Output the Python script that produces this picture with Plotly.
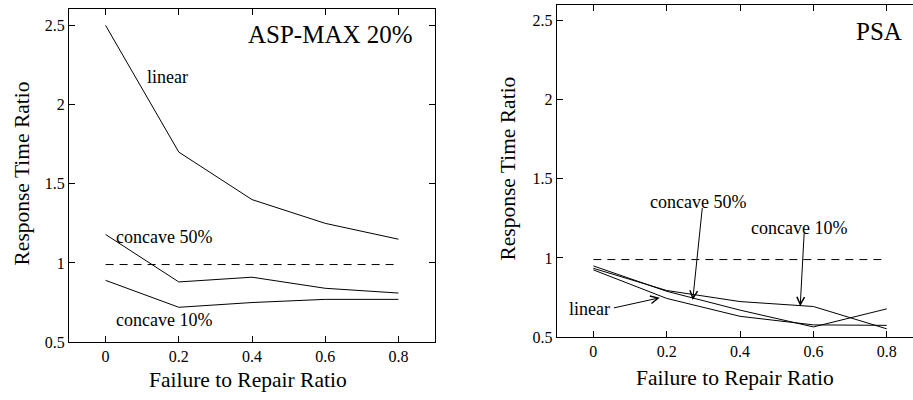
import plotly.graph_objects as go

# Failure-to-repair ratios on the x axis
ratios = [0, 0.2, 0.4, 0.6, 0.8]
tick_y = [0.5, 1, 1.5, 2, 2.5]
tick_y_text = ["0.5", "1", "1.5", "2", "2.5"]
tick_x_text = ["0", "0.2", "0.4", "0.6", "0.8"]

# ASP-MAX 20% response-time ratios
asp_linear = [2.50, 1.70, 1.40, 1.25, 1.15]
asp_concave50 = [1.18, 0.88, 0.91, 0.84, 0.81]
asp_concave10 = [0.89, 0.72, 0.75, 0.77, 0.77]

# PSA response-time ratios
psa_linear = [0.925, 0.745, 0.632, 0.578, 0.575]
psa_concave50 = [0.95, 0.79, 0.671, 0.565, 0.679]
psa_concave10 = [0.935, 0.795, 0.725, 0.694, 0.553]

# Reference level drawn dashed across the x range
baseline_x = [0, 0.8]
baseline_y = [0.99, 0.99]

FONT = "Liberation Serif, Times New Roman, Times, serif"
W, H = 913, 400

fig = go.Figure()

line_style = dict(color="black", width=1)
for ys in (asp_linear, asp_concave50, asp_concave10):
    fig.add_trace(go.Scatter(x=ratios, y=ys, mode="lines", line=line_style,
                             xaxis="x", yaxis="y", showlegend=False))
fig.add_trace(go.Scatter(x=baseline_x, y=baseline_y, mode="lines",
                         line=dict(color="black", width=1, dash="8px,6px"),
                         xaxis="x", yaxis="y", showlegend=False))

for ys in (psa_linear, psa_concave50, psa_concave10):
    fig.add_trace(go.Scatter(x=ratios, y=ys, mode="lines", line=line_style,
                             xaxis="x2", yaxis="y2", showlegend=False))
fig.add_trace(go.Scatter(x=baseline_x, y=baseline_y, mode="lines",
                         line=dict(color="black", width=1, dash="8px,6px"),
                         xaxis="x2", yaxis="y2", showlegend=False))

axis_common = dict(
    showgrid=False, zeroline=False, showline=True, linecolor="black", linewidth=1,
    ticks="inside", ticklen=6, tickcolor="black", tickwidth=1,
    tickfont=dict(family=FONT, size=16, color="black"),
)

fig.update_layout(
    width=W, height=H,
    margin=dict(l=0, r=0, t=0, b=0),
    paper_bgcolor="white", plot_bgcolor="white",
    font=dict(family=FONT, color="black"),
    xaxis=dict(axis_common, domain=[69 / W, 435 / W], range=[-0.1, 0.9],
               tickvals=ratios, ticktext=tick_x_text, mirror="ticks", anchor="y"),
    yaxis=dict(axis_common, domain=[50 / H, 391 / H], range=[0.5, 2.605],
               tickvals=tick_y, ticktext=tick_y_text, mirror="ticks", anchor="x"),
    xaxis2=dict(axis_common, domain=[556.7 / W, 1.0], range=[-0.1, 0.8716],
                tickvals=ratios, ticktext=tick_x_text, mirror="ticks", anchor="y2"),
    yaxis2=dict(axis_common, domain=[55 / H, 395 / H], range=[0.5, 2.597],
                tickvals=tick_y, ticktext=tick_y_text, mirror=False, anchor="x2"),
)

ann = []
text_font = dict(family=FONT, size=18, color="black")
title_font = dict(family=FONT, size=25, color="black")
axis_title_font = dict(family=FONT, size=21.5, color="black")

# Panel titles
ann.append(dict(xref="x", yref="y", x=0.846, y=2.444, text="ASP-MAX 20%",
                showarrow=False, xanchor="right", yanchor="middle", font=title_font))
ann.append(dict(xref="x2", yref="y2", x=0.846, y=2.43, text="PSA",
                showarrow=False, xanchor="right", yanchor="middle", font=title_font))

# Curve labels, left panel
ann.append(dict(xref="x", yref="y", x=0.170, y=2.173, text="linear",
                showarrow=False, font=text_font))
ann.append(dict(xref="x", yref="y", x=0.1605, y=1.167, text="concave 50%",
                showarrow=False, font=text_font))
ann.append(dict(xref="x", yref="y", x=0.1605, y=0.642, text="concave 10%",
                showarrow=False, font=text_font))

# Curve labels, right panel
ann.append(dict(xref="x2", yref="y2", x=0.2865, y=1.356, text="concave 50%",
                showarrow=False, font=text_font))
ann.append(dict(xref="x2", yref="y2", x=0.56, y=1.19, text="concave 10%",
                showarrow=False, font=text_font))
ann.append(dict(xref="x2", yref="y2", x=-0.0114, y=0.677, text="linear",
                showarrow=False, font=text_font))

# Pointer arrows, right panel (tail -> tip)
arrows = [
    ((0.2974, 1.325), (0.271, 0.735)),
    ((0.575, 1.165), (0.564, 0.696)),
    ((0.0517, 0.683), (0.181, 0.749)),
]
for (tx, ty), (hx, hy) in arrows:
    ann.append(dict(xref="x2", yref="y2", axref="x2", ayref="y2",
                    x=hx, y=hy, ax=tx, ay=ty, text="", showarrow=True,
                    arrowhead=5, arrowsize=1.5, arrowwidth=1, arrowcolor="black",
                    standoff=0, startstandoff=0))

# Axis titles
ann.append(dict(xref="paper", yref="paper", x=22 / W, y=1 - 177.5 / H,
                text="Response Time Ratio", textangle=-90, showarrow=False,
                xanchor="center", yanchor="middle", font=axis_title_font))
ann.append(dict(xref="paper", yref="paper", x=508 / W, y=1 - 172.5 / H,
                text="Response Time Ratio", textangle=-90, showarrow=False,
                xanchor="center", yanchor="middle", font=axis_title_font))
ann.append(dict(xref="paper", yref="paper", x=247.5 / W, y=1 - 389 / H,
                text="Failure to Repair Ratio", showarrow=False,
                xanchor="center", yanchor="middle", font=axis_title_font))
ann.append(dict(xref="paper", yref="paper", x=735 / W, y=1 - 387 / H,
                text="Failure to Repair Ratio", showarrow=False,
                xanchor="center", yanchor="middle", font=axis_title_font))

fig.update_layout(annotations=ann)
fig.write_html("out.html")
